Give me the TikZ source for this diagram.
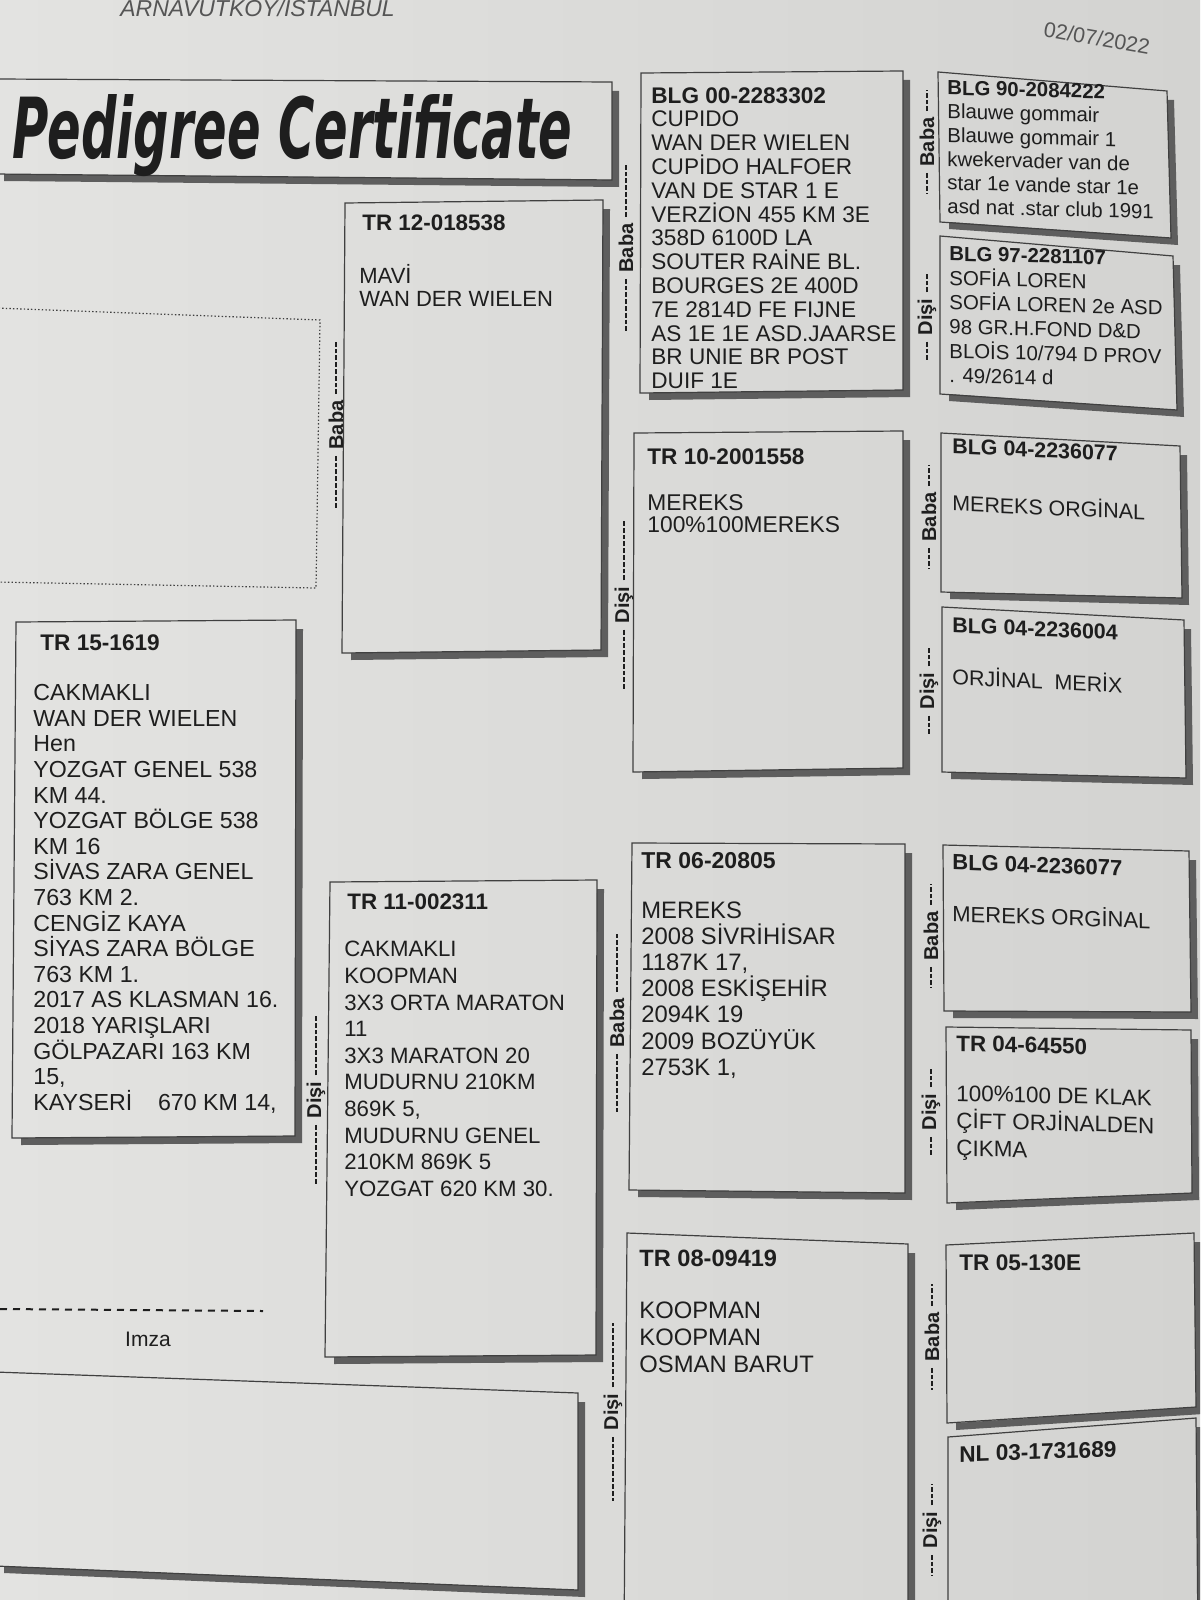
\documentclass[tikz,border=0pt]{standalone}
\usepackage{fontspec}
\usepackage{graphicx}
\setmainfont{Liberation Sans}
\newfontfamily\titlefont{DejaVu Sans}
\usetikzlibrary{calc}

\definecolor{paperL}{HTML}{E3E3E1}
\definecolor{paperR}{HTML}{D3D3D1}
\definecolor{ink}{HTML}{1E1E1E}
\definecolor{edgecol}{HTML}{404040}
\definecolor{shadecol}{HTML}{5E5E5E}
\definecolor{greyink}{HTML}{555555}

\tikzset{
  boxedge/.style={draw=edgecol, line width=0.6pt},
  idtxt/.style={anchor=north west, inner sep=0pt, text=ink},
  bodytxt/.style={anchor=north west, inner sep=0pt, align=left, text=ink},
  lab/.style={rotate=90, inner sep=0pt, text=ink, font=\bfseries\fontsize{10}{12}\selectfont},
  dsh/.style={draw=ink, line width=0.8pt, dash pattern=on 2.4pt off 1pt},
}

% box with drop shadow: #1 TL, #2 TR, #3 BR, #4 BL
\newcommand\pedbox[4]{%
  \fill[shadecol] ($#2+(0,9)$) -- ($#2+(7,9)$) -- ($#3+(7,7)$) -- ($#4+(9,7)$) -- ($#4+(9,0)$) -- #3 -- cycle;
  \draw[boxedge] #1 -- #2 -- #3 -- #4 -- cycle;}

\newcommand\fs[2]{\fontsize{#1}{#2}\selectfont}

\begin{document}
\begin{tikzpicture}[x=0.5pt,y=-0.5pt]
\useasboundingbox (0,0) rectangle (1200,1600);
\clip (0,0) rectangle (1200,1600);
\shade[left color=paperL, right color=paperR] (0,0) rectangle (1200,1600);

% header
\node[anchor=base west, inner sep=0pt, text=greyink, font=\itshape\fs{11.5}{13}] (addr) at (120,17) {ARNAVUTKOY/ISTANBUL};
\node[inner sep=0pt, text=greyink, rotate=-10, font=\fs{10.7}{12}] (date) at (1097,38) {02/07/2022};

% title
\pedbox{(-5,79)}{(612,82)}{(612,180)}{(-5,174)}
\node[anchor=base west, inner sep=0pt, text=ink] (title) at (12,158) {\resizebox{280pt}{32pt}{\titlefont\bfseries\itshape Pedigree Certificate}};

% photo placeholder
\draw[edgecol, line width=0.6pt, dash pattern=on 0.7pt off 1.1pt] (-5,308) -- (320,320) -- (316,588) -- (-5,582);

% boxes
\pedbox{(16,622)}{(296,620)}{(295,1136)}{(12,1138)}
\pedbox{(345,203)}{(603,200)}{(601,650)}{(342,653)}
\pedbox{(330,882)}{(597,880)}{(596,1355)}{(325,1357)}
\pedbox{(641,73)}{(903,71)}{(903,390)}{(640,393)}
\pedbox{(634,433)}{(903,431)}{(903,768)}{(633,772)}
\pedbox{(632,843)}{(905,844)}{(905,1193)}{(629,1190)}
\pedbox{(627,1233)}{(908,1244)}{(908,1640)}{(624,1640)}
\pedbox{(938,72)}{(1167,91)}{(1171,238)}{(940,222)}
\pedbox{(940,236)}{(1173,256)}{(1177,410)}{(940,394)}
\pedbox{(941,433)}{(1180,446)}{(1182,598)}{(941,592)}
\pedbox{(942,607)}{(1184,620)}{(1186,778)}{(942,772)}
\pedbox{(943,845)}{(1189,851)}{(1191,1012)}{(944,1011)}
\pedbox{(946,1027)}{(1191,1030)}{(1192,1193)}{(947,1203)}
\pedbox{(946,1245)}{(1194,1233)}{(1196,1407)}{(947,1423)}
\pedbox{(948,1437)}{(1196,1418)}{(1198,1640)}{(948,1640)}
\pedbox{(-5,1372)}{(578,1393)}{(578,1590)}{(-5,1566)}

% subject
\node[idtxt, font=\bfseries\fs{11.3}{13}] (id15) at (40,634) {TR 15-1619};
\node[bodytxt, font=\fs{11.6}{12.8}] (b15) at (33,684) {CAKMAKLI\\WAN DER WIELEN\\Hen\\YOZGAT GENEL 538\\KM 44.\\YOZGAT BÖLGE 538\\KM 16\\SİVAS ZARA GENEL\\763 KM 2.\\CENGİZ KAYA\\SİYAS ZARA BÖLGE\\763 KM 1.\\2017 AS KLASMAN 16.\\2018 YARIŞLARI\\GÖLPAZARI 163 KM\\15,\\KAYSERİ~~~~670 KM 14,};

% sire
\node[idtxt, font=\bfseries\fs{11.2}{13}] (id12) at (362,214) {TR 12-018538};
\node[bodytxt, font=\fs{11}{11.3}] (b12) at (359,264) {MAVİ\\WAN DER WIELEN};

% dam
\node[idtxt, font=\bfseries\fs{11.2}{13}] (id11) at (347,893) {TR 11-002311};
\node[bodytxt, font=\fs{11.1}{13.3}] (b11) at (344,941) {CAKMAKLI\\KOOPMAN\\3X3 ORTA MARATON\\11\\3X3 MARATON 20\\MUDURNU 210KM\\869K 5,\\MUDURNU GENEL\\210KM 869K 5\\YOZGAT 620 KM 30.};

% sire's sire
\node[bodytxt, font=\fs{11.3}{11.9}] (b00) at (651,87) {\textbf{BLG 00-2283302}\\CUPIDO\\WAN DER WIELEN\\CUPİDO HALFOER\\VAN DE STAR 1 E\\VERZİON 455 KM 3E\\358D 6100D LA\\SOUTER RAİNE BL.\\BOURGES 2E 400D\\7E 2814D FE FIJNE\\AS 1E 1E ASD.JAARSE\\BR UNIE BR POST\\DUIF 1E};

% sire's dam
\node[idtxt, font=\bfseries\fs{11.3}{13}] (id10) at (647,448) {TR 10-2001558};
\node[bodytxt, font=\fs{11.4}{11.2}] (b10) at (647,494) {MEREKS\\100\%100MEREKS};

% dam's sire
\node[idtxt, font=\bfseries\fs{11.5}{13}] (id06) at (641,852) {TR 06-20805};
\node[bodytxt, font=\fs{11.9}{13.1}] (b06) at (641,901) {MEREKS\\2008 SİVRİHİSAR\\1187K 17,\\2008 ESKİŞEHİR\\2094K 19\\2009 BOZÜYÜK\\2753K 1,};

% dam's dam
\node[idtxt, font=\bfseries\fs{11.8}{13}] (id08) at (639,1250) {TR 08-09419};
\node[bodytxt, font=\fs{11.9}{13.5}] (b08) at (639,1301) {KOOPMAN\\KOOPMAN\\OSMAN BARUT};

% third generation
\node[bodytxt, yslant=-0.025, font=\fs{10.2}{11.9}] (b90) at (947,80) {\textbf{BLG 90-2084222}\\Blauwe gommair\\Blauwe gommair 1\\kwekervader van de\\star 1e vande star 1e\\asd nat .star club 1991};
\node[bodytxt, yslant=-0.025, font=\fs{10.2}{12.2}] (b97) at (949,246) {\textbf{BLG 97-2281107}\\SOFİA LOREN\\SOFİA LOREN 2e ASD\\98 GR.H.FOND D\&D\\BLOİS 10/794 D PROV\\. 49/2614 d};

\node[idtxt, yslant=-0.045, font=\bfseries\fs{10.7}{13}] (id77a) at (952,438) {BLG 04-2236077};
\node[bodytxt, yslant=-0.045, font=\fs{10.7}{13}] (b77a) at (952,492) {MEREKS ORGİNAL};
\node[idtxt, yslant=-0.045, font=\bfseries\fs{10.7}{13}] (id04) at (952,617) {BLG 04-2236004};
\node[bodytxt, yslant=-0.045, font=\fs{10.7}{13}] (b04) at (952,666) {ORJİNAL~~MERİX};

\node[idtxt, yslant=-0.035, font=\bfseries\fs{11}{13}] (id77b) at (952,854) {BLG 04-2236077};
\node[bodytxt, yslant=-0.035, font=\fs{11}{13}] (b77b) at (952,902) {MEREKS ORGİNAL};
\node[idtxt, yslant=-0.025, font=\bfseries\fs{11.2}{13}] (id4550) at (956,1035) {TR 04-64550};
\node[bodytxt, yslant=-0.025, font=\fs{11.2}{13.7}] (b4550) at (956,1085) {100\%100 DE KLAK\\ÇİFT ORJİNALDEN\\ÇIKMA};

\node[idtxt, font=\bfseries\fs{11.3}{13}] (id130) at (959,1254) {TR 05-130E};
\node[idtxt, yslant=0.035, font=\bfseries\fs{11.3}{13}] (idnl) at (959,1446) {NL 03-1731689};

% Baba / Disi labels
\foreach \nm/\x/\y/\t/\d in {
  la/336/425/Baba/54, lb/316/1100/Dişi/61,
  lc/626/248/Baba/54, ld/624/605/Dişi/61, le/617/1023/Baba/58, lf/613/1412/Dişi/64,
  lg/927/142/Baba/21, lh/927/317/Dişi/19, li/929/517/Baba/21, lj/929/691/Dişi/20,
  lk/931/936/Baba/21, ll/931/1112/Dişi/20, lm/932/1337/Baba/22, ln/932/1530/Dişi/21}{
  \node[lab] (\nm) at (\x,\y) {\t};
  \draw[dsh] (\nm.west) ++(0,6) -- ++(0,\d);
  \draw[dsh] (\nm.east) ++(0,-6) -- ++(0,-\d);
}

% signature
\coordinate (sigA) at (0,1309);
\coordinate (sigB) at (263,1311);
\draw[draw=ink, line width=1pt, dash pattern=on 3.5pt off 3pt] (sigA) -- (sigB);
\node[inner sep=0pt, text=ink, font=\fs{10.5}{12}] (imza) at (148,1339) {Imza};
\end{tikzpicture}
\end{document}
